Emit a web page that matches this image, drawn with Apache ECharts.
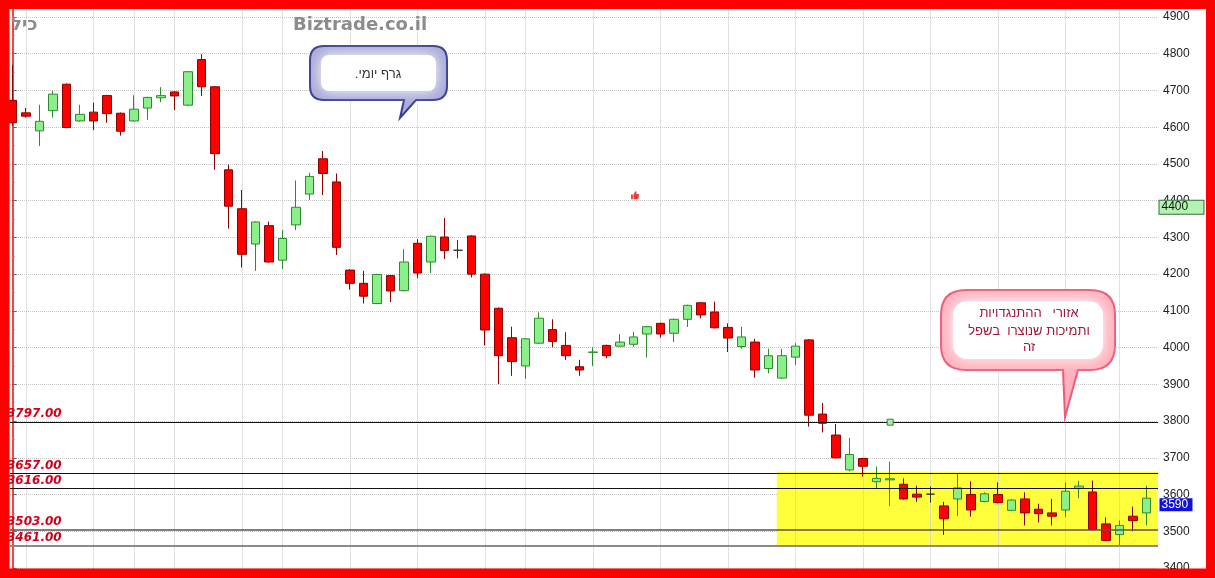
<!DOCTYPE html>
<html>
<head>
<meta charset="utf-8">
<script src="https://cdn.jsdelivr.net/npm/echarts@6/dist/echarts.min.js"></script>
<style>
html,body{margin:0;padding:0;background:#fff;}
#chart{width:1215px;height:578px;}
</style>
</head>
<body>
<div id="chart"></div>
<script>
// ---- data ----
// each candle: [open, close, low, high]
const candles = [
  [4673,4612,4605,4769],[4639,4630,4626,4652],[4590,4616,4549,4661],[4645,4690,4626,4699],
  [4717,4599,4597,4719],[4617,4635,4615,4661],[4641,4617,4592,4667],[4686,4637,4612,4688],
  [4638,4589,4577,4640],[4617,4649,4615,4687],[4652,4681,4620,4683],[4680,4686,4668,4709],
  [4696,4685,4647,4698],[4660,4751,4657,4753],[4784,4710,4685,4799],[4710,4528,4484,4712],
  [4484,4385,4324,4498],[4378,4254,4218,4429],[4282,4342,4209,4344],[4332,4233,4231,4343],
  [4238,4297,4214,4320],[4334,4382,4320,4455],[4418,4466,4402,4476],[4514,4474,4415,4535],
  [4451,4273,4252,4474],[4211,4175,4158,4213],[4175,4140,4120,4209],[4120,4199,4118,4201],
  [4196,4154,4124,4198],[4155,4233,4153,4268],[4284,4203,4189,4295],[4233,4303,4203,4305],
  [4301,4264,4241,4353],[4265,4265,4243,4293],[4304,4200,4191,4306],[4200,4048,4006,4202],
  [4107,3978,3901,4109],[4027,3962,3923,4057],[3950,4024,3915,4026],[4012,4080,4010,4096],
  [4049,4017,4001,4077],[4006,3978,3966,4042],[3948,3939,3923,3967],[3987,3988,3950,4001],
  [4006,3978,3971,4008],[4004,4015,4003,4037],[4009,4029,4003,4043],[4037,4057,3973,4059],
  [4066,4037,4027,4068],[4039,4077,4015,4079],[4077,4115,4056,4117],[4122,4089,4080,4124],
  [4097,4054,4052,4125],[4055,4026,3988,4066],[4003,4029,3997,4056],[4015,3939,3918,4024],
  [3943,3978,3930,3997],[3917,3978,3915,3997],[3974,4004,3953,4012],[4021,3816,3785,4023],
  [3819,3794,3769,3849],[3762,3700,3698,3792],[3667,3709,3663,3754],[3698,3677,3649,3700],
  [3635,3644,3615,3676],[3640,3643,3569,3690],[3628,3588,3586,3644],[3601,3593,3580,3624],
  [3601,3601,3578,3622],[3569,3534,3490,3580],[3588,3618,3542,3656],[3600,3558,3540,3636],
  [3581,3602,3579,3606],[3600,3578,3576,3633],[3557,3585,3555,3587],[3588,3550,3516,3606],
  [3560,3548,3524,3575],[3550,3541,3516,3588],[3558,3609,3538,3633],[3617,3623,3590,3637],
  [3607,3505,3503,3638],[3520,3475,3473,3538],[3491,3516,3459,3529],[3541,3529,3500,3567],
  [3550,3590,3516,3624]
];
// candle indices where the vertical (weekly) grid lines fall
const weekStarts = [1,6,9,12,17,20,25,30,35,38,43,48,53,58,63,68,73,78,82];
// support / resistance levels
const levels = [3797, 3657, 3616, 3503, 3461];
// yellow zone: from candle position to right edge, price range
const zoneStart = 56.6;
const zoneTop = 3662;
const zoneBottom = 3461;
// markers
const lastPrice = 3590;
const alertPrice = 4400;
const alertMarker = [65, 3797];
const thumbMarker = [46.1, 4415];
// y-axis
const yMin = 3300, yMax = 5000, yStep = 100;

// ---- layout (not data) ----
const xMin = -0.2, xMax = 84.837;
const levelStyles = [
  {color:'#111', width:1},
  {color:'#111', width:1},
  {color:'#111', width:1},
  {color:'#555', width:1.5},
  {color:'#8a8a8a', width:2.2}
];

// speech-bubble shape: rounded rect with a tail on the bottom edge
const Bubble = echarts.graphic.extendShape({
  shape: {x: 0, y: 0, w: 10, h: 10, r: 4, t1: 0, t2: 0, tipX: 0, tipY: 0},
  buildPath: function (ctx, s) {
    const x = s.x, y = s.y, w = s.w, h = s.h, r = s.r;
    ctx.moveTo(x + r, y);
    ctx.lineTo(x + w - r, y);
    ctx.quadraticCurveTo(x + w, y, x + w, y + r);
    ctx.lineTo(x + w, y + h - r);
    ctx.quadraticCurveTo(x + w, y + h, x + w - r, y + h);
    ctx.lineTo(s.t2, y + h);
    ctx.lineTo(s.tipX, s.tipY);
    ctx.lineTo(s.t1, y + h);
    ctx.lineTo(x + r, y + h);
    ctx.quadraticCurveTo(x, y + h, x, y + h - r);
    ctx.lineTo(x, y + r);
    ctx.quadraticCurveTo(x, y, x + r, y);
    ctx.closePath();
  }
});
echarts.graphic.registerShape('bubble', Bubble);

const chart = echarts.init(document.getElementById('chart'), null, {renderer:'canvas'});

const priceBox = (val, bg, fg, border, width) => ({
  coord: [xMax - 0.001, val],
  symbol: 'rect', symbolSize: 1,
  itemStyle: {color: 'rgba(0,0,0,0)'},
  label: {
    show: true, position: 'right', distance: 1, offset: [0, 6.5],
    formatter: String(val), color: fg, backgroundColor: bg,
    borderColor: border || bg, borderWidth: border ? 1 : 0,
    padding: [1, 2, 0, 2], width: width, height: 12, lineHeight: 12,
    fontSize: 12, fontFamily: 'Liberation Sans, Arial, sans-serif', align: 'left'
  }
});

const option = {
  animation: false,
  backgroundColor: '#ffffff',
  grid: {left: 10, right: 57, top: -19.75, bottom: -26.75, containLabel: false, outerBoundsMode: 'none'},
  xAxis: {
    type: 'value', min: xMin, max: xMax,
    axisLine: {show: false}, axisTick: {show: false}, axisLabel: {show: false}, splitLine: {show: false}
  },
  yAxis: {
    type: 'value', position: 'right', min: yMin, max: yMax, interval: yStep,
    axisLine: {show: true, lineStyle: {color: '#ff0000', width: 1.5}},
    axisTick: {show: true, length: 4, lineStyle: {color: '#666'}},
    minorTick: {show: true, splitNumber: 2, length: 2, lineStyle: {color: '#888'}},
    axisLabel: {color: '#222', fontSize: 12, margin: 5, fontFamily: 'Liberation Sans, Arial, sans-serif',
      formatter: v => String(v)},
    splitLine: {show: true, lineStyle: {type: 'dotted', color: '#c4c4c4', width: 1}}
  },
  series: [
    {
      type: 'line', data: [], silent: true, z: 1,
      markArea: {
        silent: true, z: 1,
        itemStyle: {color: '#ffff3c', opacity: 1},
        data: [[{xAxis: zoneStart, yAxis: zoneTop}, {xAxis: xMax, yAxis: zoneBottom}]]
      }
    },
    {
      type: 'line', data: [], silent: true, z: 1,
      markLine: {
        silent: true, z: 1.5, symbol: ['none','none'],
        label: {show: false},
        lineStyle: {type: 'dotted', color: '#c4c4c4', width: 1},
        data: weekStarts.map(i => ({xAxis: i}))
      }
    },
    {
      type: 'candlestick', z: 3,
      data: candles.map((c, i) => [i, c[0], c[1], c[2], c[3]]),
      encode: {x: 0, y: [1, 2, 3, 4]},
      barWidth: 9,
      itemStyle: {
        color: '#8af08a', color0: '#ff0000',
        borderColor: '#2f8a2f', borderColor0: '#8b0000',
        borderColorDoji: '#333333', borderWidth: 1
      }
    },
    {
      type: 'line', data: [], silent: true, z: 5,
      markLine: {
        silent: true, z: 5, symbol: ['none','none'],
        data: levels.map((v, k) => ({
          yAxis: v,
          lineStyle: {type: 'solid', color: levelStyles[k].color, width: levelStyles[k].width}
        })),
        label: {
          show: true, position: 'insideStartTop', distance: [-3, 2],
          formatter: p => Number(p.value).toFixed(2),
          color: '#d4001a', fontStyle: 'italic', fontWeight: 'bold', fontSize: 12,
          fontFamily: 'DejaVu Sans, Verdana, sans-serif'
        }
      }
    },
    {
      type: 'line', data: [], silent: true, z: 10, clip: false,
      markPoint: {
        silent: true, z: 10,
        data: [
          priceBox(lastPrice, '#1212d6', '#ffffff', null, 29),
          priceBox(alertPrice, '#b2f2b2', '#111111', '#3a6a3a', 40),
          {
            coord: alertMarker, symbol: 'rect', symbolSize: 6,
            itemStyle: {color: '#a6f0a6', borderColor: '#3d7a3d', borderWidth: 1},
            label: {show: false}
          },
          {
            coord: thumbMarker,
            symbol: 'path://M1,6 L4,6 L4,13 L1,13 Z M5,6 L8,1 Q9.5,0 10,2 L9.5,5 L13,5 Q14.5,5.5 14,7 L13,12 Q12.5,13 11.5,13 L5,13 Z',
            symbolSize: [8, 8],
            itemStyle: {color: '#f03a3a'},
            label: {show: false}
          }
        ]
      }
    }
  ],
  graphic: [
    {type: 'text', x: 293, y: 25.5, z: 50, silent: true,
      style: {text: 'Biztrade.co.il', fill: '#8c8c8c', font: 'bold 18px "DejaVu Sans", Verdana, sans-serif', verticalAlign: 'middle', align: 'left'}},
    {type: 'text', x: 11, y: 25.5, z: 50, silent: true,
      style: {text: 'כיל', fill: '#8c8c8c', font: 'bold 18px "DejaVu Sans", sans-serif', verticalAlign: 'middle', align: 'left'}},
    // callout 1
    {type: 'bubble', z: 50, silent: true,
      shape: {x: 310, y: 46, w: 137, h: 54, r: 14, t1: 404, t2: 416, tipX: 400, tipY: 118},
      style: {fill: '#a9acd9', stroke: '#3c3f8f', lineWidth: 2}},
    {type: 'rect', z: 51, silent: true,
      shape: {x: 321, y: 55, width: 115, height: 36, r: 8},
      style: {fill: '#ffffff', shadowBlur: 14, shadowColor: '#ffffff'}},
    {type: 'text', x: 378, y: 74, z: 52, silent: true,
      style: {text: 'גרף יומי.\u200F', fill: '#333', font: '13px "Liberation Sans", "DejaVu Sans", sans-serif', align: 'center', verticalAlign: 'middle'}},
    // callout 2
    {type: 'bubble', z: 50, silent: true,
      shape: {x: 941, y: 290, w: 174, h: 80, r: 25, t1: 1063, t2: 1078, tipX: 1065, tipY: 417},
      style: {fill: '#ffb0bd', stroke: '#ee5a78', lineWidth: 2}},
    {type: 'rect', z: 51, silent: true,
      shape: {x: 953, y: 301, width: 150, height: 58, r: 14},
      style: {fill: '#ffffff', shadowBlur: 16, shadowColor: '#ffffff'}},
    {type: 'text', x: 1029, y: 313, z: 52, silent: true,
      style: {text: 'אזורי   ההתנגדויות', fill: '#a3173a', font: '13px "Liberation Sans", "DejaVu Sans", sans-serif', align: 'center', verticalAlign: 'middle'}},
    {type: 'text', x: 1029, y: 331, z: 52, silent: true,
      style: {text: 'ותמיכות שנוצרו  בשפל', fill: '#a3173a', font: '13px "Liberation Sans", "DejaVu Sans", sans-serif', align: 'center', verticalAlign: 'middle'}},
    {type: 'text', x: 1029, y: 347, z: 52, silent: true,
      style: {text: 'זה', fill: '#a3173a', font: '13px "Liberation Sans", "DejaVu Sans", sans-serif', align: 'center', verticalAlign: 'middle'}},
    // red frame
    {type: 'rect', z: 100, silent: true, shape: {x: 0, y: 0, width: 9.5, height: 578}, style: {fill: '#ff0000'}},
    {type: 'rect', z: 100, silent: true, shape: {x: 0, y: 0, width: 1215, height: 9}, style: {fill: '#ff0000'}},
    {type: 'rect', z: 100, silent: true, shape: {x: 1206, y: 0, width: 9, height: 578}, style: {fill: '#ff0000'}},
    {type: 'rect', z: 100, silent: true, shape: {x: 0, y: 568.5, width: 1215, height: 9.5}, style: {fill: '#ff0000'}}
  ]
};
chart.setOption(option);
</script>
</body>
</html>
